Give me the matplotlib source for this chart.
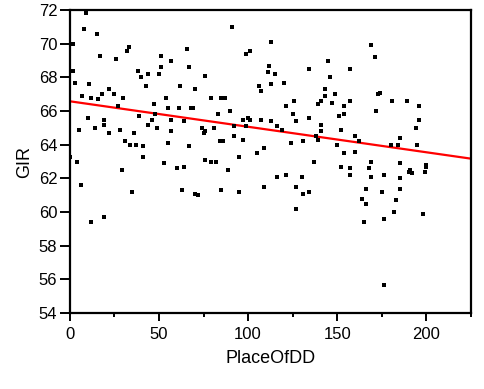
import numpy as np
import matplotlib
matplotlib.use("Agg")
from matplotlib import pyplot as plt


# Values
place_of_dd = [
    9, 8, 15, 2, 33, 32, 66, 17, 51, 26, 57, 2, 51, 67, 38, 44, 50, 40, 3, 11,
    43, 62, 70, 22, 25, 18, 7, 12, 16, 30, 54, 47, 27, 55, 61, 68, 69, 39, 48, 10,
    19, 46, 57, 64, 19, 44, 5, 14, 28, 49, 57, 22, 36, 31, 34, 37, 41, 55, 67, 0,
    41, 4, 29, 53, 60, 64, 6, 35, 63, 70, 72, 12, 19,
    91, 113, 101, 99, 145, 112, 111, 115, 134, 76, 146, 120, 113, 106, 107, 143, 143, 79, 85, 87,
    126, 141, 139, 121, 90, 83, 125, 97, 100, 101, 107, 113, 127, 134, 141, 74, 81, 92, 99, 116,
    76, 75, 119, 141, 92, 97, 84, 86, 138, 139, 124, 131, 109, 105, 95, 76, 79, 82, 137, 89,
    116, 121, 130, 85, 95, 109, 127, 131, 134, 127,
    169, 171, 157, 149, 174, 173, 147, 157, 181, 189, 154, 196, 172, 151, 154, 196, 152, 194, 160, 162,
    185, 150, 180, 184, 195, 154, 160, 152, 157, 169, 168, 185, 157, 169, 176, 185, 190, 191, 192, 199,
    200, 200, 166, 175, 185, 164, 166, 183, 182, 198, 165, 176, 176,
]
gir = [
    71.8, 70.9, 70.6, 70.0, 69.8, 69.6, 69.7, 69.3, 69.3, 69.1, 69.0, 68.4, 68.6, 68.6, 68.4, 68.2, 68.2, 68.0, 67.7, 67.6,
    67.5, 67.5, 67.3, 67.3, 67.0, 67.0, 66.9, 66.8, 66.7, 66.8, 66.8, 66.4, 66.3, 66.2, 66.2, 66.2, 66.2, 65.7, 65.8, 65.6,
    65.5, 65.5, 65.5, 65.4, 65.2, 65.2, 64.9, 65.0, 64.9, 65.0, 64.8, 64.7, 64.7, 64.2, 64.0, 64.0, 63.9, 64.1, 63.9, 63.3,
    63.3, 63.0, 62.5, 62.9, 62.6, 62.7, 61.6, 61.2, 61.3, 61.1, 61.0, 59.4, 59.7,
    71.0, 70.1, 69.6, 69.4, 69.0, 68.7, 68.3, 68.2, 68.5, 68.1, 68.0, 67.7, 67.6, 67.5, 67.2, 67.3, 66.9, 66.8, 66.8, 66.8,
    66.6, 66.6, 66.4, 66.3, 66.0, 65.8, 65.8, 65.5, 65.6, 65.5, 65.5, 65.4, 65.4, 65.6, 65.2, 65.0, 65.0, 65.1, 65.1, 65.1,
    64.8, 64.7, 64.9, 64.8, 64.5, 64.3, 64.2, 64.2, 64.5, 64.3, 64.1, 64.2, 63.8, 63.5, 63.3, 63.1, 63.0, 63.0, 63.0, 62.5,
    62.1, 62.2, 62.1, 61.3, 61.2, 61.5, 61.5, 61.1, 61.2, 60.2,
    69.9, 69.2, 68.5, 67.0, 67.1, 67.0, 66.5, 66.6, 66.6, 66.6, 66.3, 66.3, 66.0, 65.7, 65.8, 65.5, 64.9, 65.0, 64.5, 64.2,
    64.4, 64.0, 64.0, 64.0, 64.0, 63.5, 63.6, 62.7, 62.6, 63.0, 62.6, 62.9, 62.2, 62.1, 62.2, 62.0, 62.4, 62.5, 62.3, 62.4,
    62.7, 62.8, 61.4, 61.2, 61.4, 60.8, 60.5, 60.7, 60.0, 59.9, 59.4, 59.6, 55.7,
]

x_ticks = [0, 50, 100, 150, 200]
y_ticks = [54, 56, 58, 60, 62, 64, 66, 68, 70, 72]


plt.rcParams["font.family"] = ["Liberation Sans", "DejaVu Sans"]

fig = plt.figure(figsize=(4.85, 3.89), dpi=100)
ax = fig.add_axes([0.144, 0.195, 0.827, 0.779])

ax.scatter(place_of_dd, gir, marker="s", s=7, color="black", linewidths=0, zorder=3)

# linear fit
slope, intercept = np.polyfit(place_of_dd, gir, 1)
xs = np.array([0, 225])
ax.plot(xs, intercept + slope * xs, color="red", lw=1.6, zorder=2)

ax.set_xlim(0, 225)
ax.set_ylim(54, 72)
ax.set_xticks(x_ticks)
ax.set_xticks([25, 75, 125, 175, 225], minor=True)
ax.set_yticks(y_ticks)

for s in ax.spines.values():
    s.set_linewidth(1.6)

ax.tick_params(axis="y", direction="out", length=7, width=1.4, labelsize=12, pad=2)
ax.tick_params(axis="x", which="major", direction="out", length=6, width=1.4, labelsize=12, pad=4)
ax.tick_params(axis="x", which="minor", direction="out", length=3, width=1.4)

ax.set_xlabel("PlaceOfDD", fontsize=13, labelpad=6)
ax.set_ylabel("GIR", fontsize=13, labelpad=4)

fig.savefig("out.png", dpi=100)
